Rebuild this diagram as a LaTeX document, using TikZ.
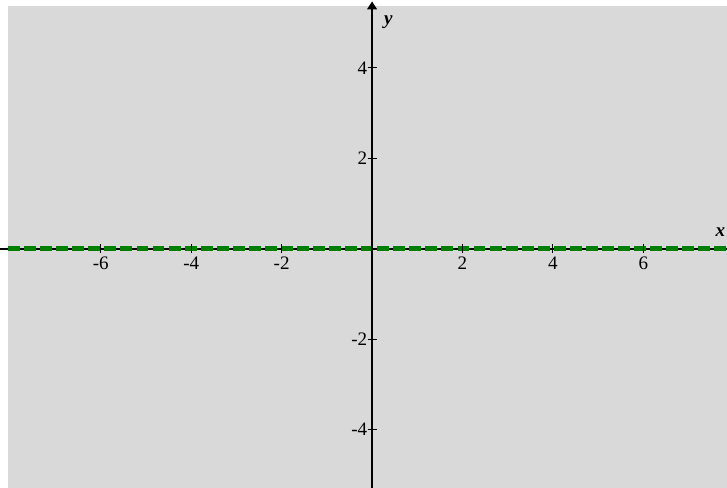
\documentclass[tikz,border=0pt]{standalone}
\usepackage{fontspec}
\setmainfont{Liberation Serif}
\usetikzlibrary{arrows.meta}

\begin{document}
\begin{tikzpicture}[
    axis/.style={line width=1.3pt, black},
    tick/.style={line width=0.6pt, black},
    ticklabel/.style={inner sep=0pt, font=\fontsize{12}{14}\selectfont},
    curve/.style={line width=3pt, green!50!black, dash pattern=on 7.5pt off 2.6pt}
  ]
    \useasboundingbox (-8.23,-5.29) rectangle (7.85,5.50);
    \fill[black!15] (-8.05,-5.29) rectangle (7.85,5.36);

    \coordinate (xl) at (-8.23,0);
    \coordinate (xr) at (7.85,0);
    \coordinate (yb) at (0,-5.29);
    \coordinate (yt) at (0,5.47);

    \draw[axis] (xl) -- (xr);
    \draw[curve] (-8.05,0) -- (xr);
    \draw[axis, -{Triangle[width=6pt,length=5pt]}] (yb) -- (yt);

    \foreach \x in {-6,-4,-2,2,4,6} {
        \draw[tick] (\x,-0.1) -- (\x,0.1);
        \node[ticklabel, anchor=north] (xt\x) at (\x,-0.17) {\x};
    }
    \foreach \y in {-4,-2,2,4} {
        \draw[tick] (-0.1,\y) -- (0.1,\y);
        \node[ticklabel, anchor=east] (yt\y) at (-0.1,\y) {\y};
    }

    \node[font=\fontsize{12}{14}\selectfont\bfseries\itshape] (ylab) at (0.36,5.0) {y};
    \node[font=\fontsize{12}{14}\selectfont\bfseries\itshape, inner sep=1pt, anchor=east] (xlab) at (7.85,0.36) {x};
\end{tikzpicture}
\end{document}
